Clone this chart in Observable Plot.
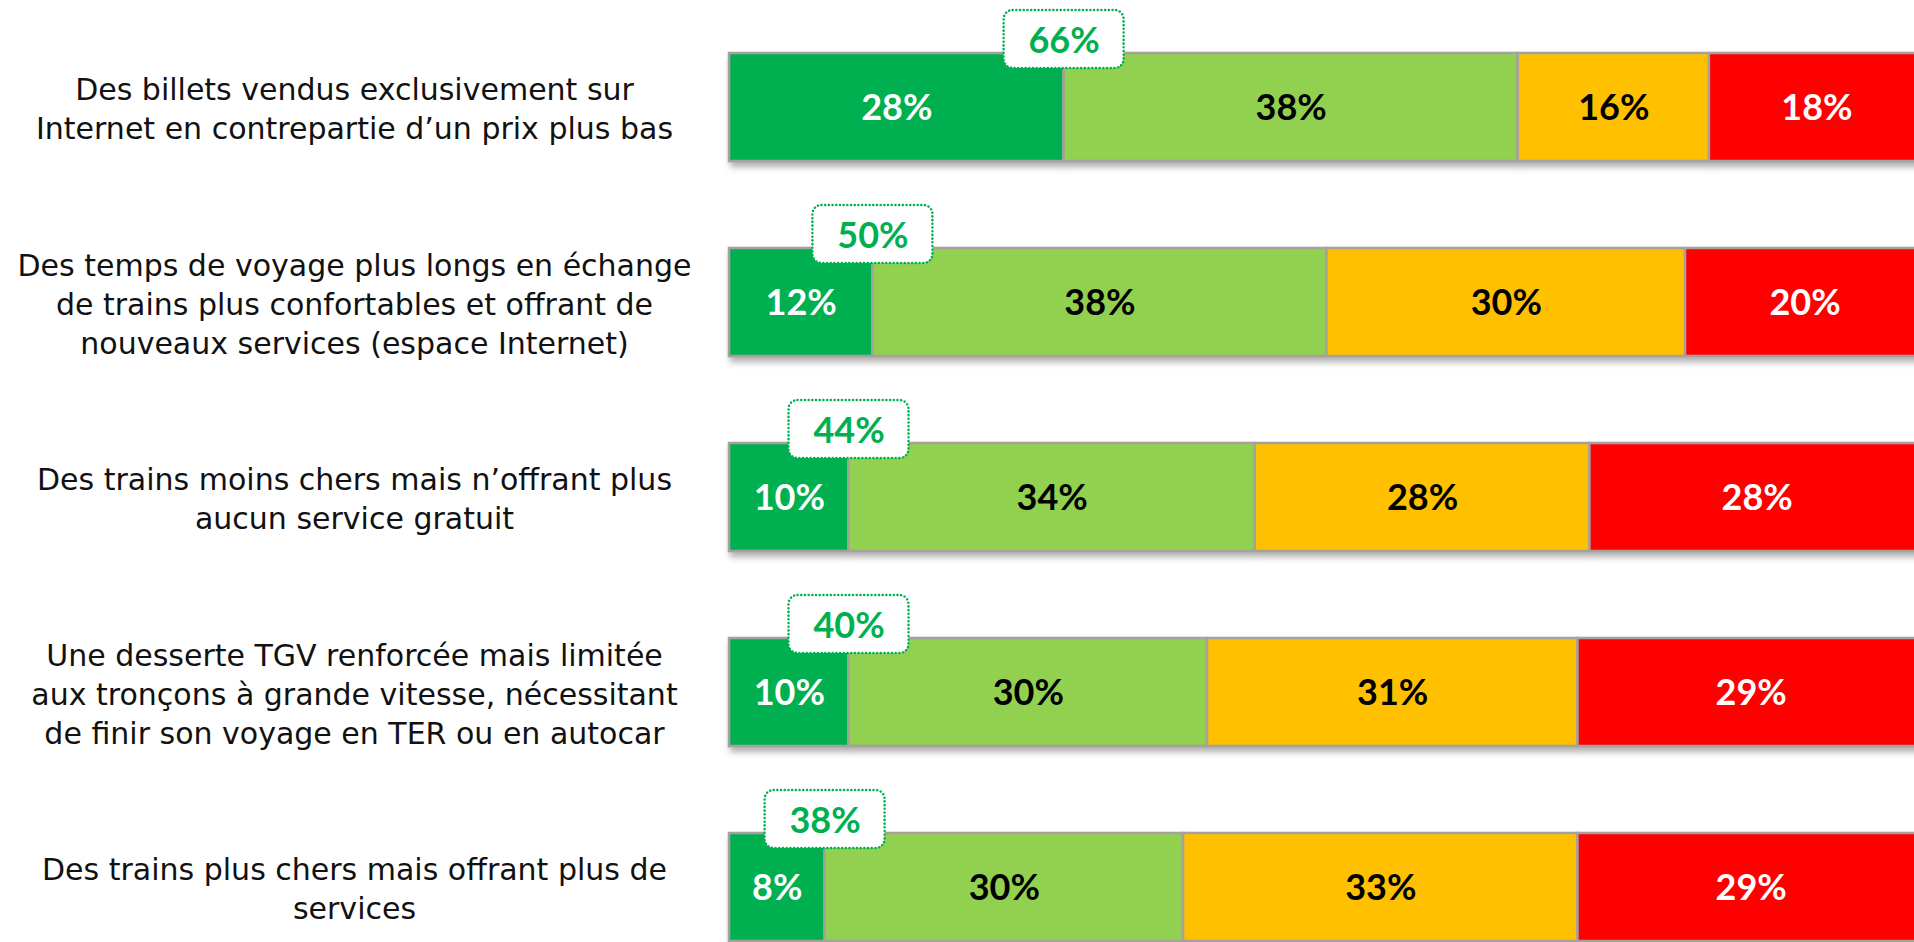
<!DOCTYPE html>
<html>
<head>
<meta charset="utf-8">
<script src="https://cdn.jsdelivr.net/npm/d3@7"></script>
<script src="https://cdn.jsdelivr.net/npm/@observablehq/plot@0.6"></script>
<style>
  html, body { margin: 0; padding: 0; background: #fff; overflow: hidden; }
</style>
</head>
<body>
<div id="chart"></div>
<script>
const categories = [
  "Des billets vendus exclusivement sur\nInternet en contrepartie d’un prix plus bas",
  "Des temps de voyage plus longs en échange\nde trains plus confortables et offrant de\nnouveaux services (espace Internet)",
  "Des trains moins chers mais n’offrant plus\naucun service gratuit",
  "Une desserte TGV renforcée mais limitée\naux tronçons à grande vitesse, nécessitant\nde finir son voyage en TER ou en autocar",
  "Des trains plus chers mais offrant plus de\nservices"
];
const series = ["Tout à fait", "Plutôt oui", "Plutôt non", "Pas du tout"];
const toutAFait = [28, 12, 10, 10, 8];
const plutotOui = [38, 38, 34, 30, 30];
const plutotNon = [16, 30, 28, 31, 33];
const pasDuTout = [18, 20, 28, 29, 29];
const totalFavorable = [66, 50, 44, 40, 38];
const seriesColors = ["#00B050", "#92D050", "#FFC000", "#FF0000"];

const values = [toutAFait, plutotOui, plutotNon, pasDuTout];
const table = [];
categories.forEach((c, i) => {
  let start = 0;
  series.forEach((s, j) => {
    const v = values[j][i];
    table.push({cat: c, serie: s, value: v, x1: start, x2: start + v});
    start += v;
  });
});
// the favourable total box sits on the border between the first two segments
const totals = categories.map((c, i) => ({cat: c, total: totalFavorable[i], at: toutAFait[i]}));
const whiteText = new Set([series[0], series[3]]);

const labelFont = "Lato, 'Open Sans', sans-serif";

const chart = Plot.plot({
  width: 1914,
  height: 942,
  marginLeft: 729,
  marginRight: -10,
  marginTop: 52,
  marginBottom: 1,
  x: {domain: [0, 100], axis: null},
  y: {domain: categories, paddingInner: 0.447, paddingOuter: 0, axis: null, label: null},
  color: {domain: series, range: seriesColors},
  style: {fontFamily: labelFont, background: "white", overflow: "hidden"},
  marks: [
    Plot.barX(table, {x1: "x1", x2: "x2", y: "cat", fill: "serie", stroke: "#A6A19C", strokeWidth: 2.5}),
    Plot.text(table.filter(d => whiteText.has(d.serie)), {x: d => (d.x1 + d.x2) / 2, y: "cat", text: d => d.value + "%", fill: "white", fontSize: 36, fontWeight: "bold", dy: 1}),
    Plot.text(table.filter(d => !whiteText.has(d.serie)), {x: d => (d.x1 + d.x2) / 2, y: "cat", text: d => d.value + "%", fill: "black", fontSize: 36, fontWeight: "bold", dy: 1}),
    Plot.rect(totals, {x1: "at", x2: "at", y: "cat", insetLeft: -60, insetRight: -60, insetTop: -43, insetBottom: 93, rx: 9, fill: "white", stroke: "#00B050", strokeWidth: 2.5, strokeDasharray: "0.1 3.6", strokeLinecap: "round"}),
    Plot.text(totals, {x: "at", y: "cat", text: d => d.total + "%", fill: "#00B050", fontSize: 36, fontWeight: "bold", dy: -66}),
    Plot.axisY({tickSize: 0, textAnchor: "middle", dx: -366, fontSize: 30, lineHeight: 1.3, fill: "#111", label: null, fontFamily: "'DejaVu Sans', sans-serif"})
  ]
});
chart.style.maxWidth = "none";
d3.select(chart).selectAll('g[aria-label="bar"]').style("filter", "drop-shadow(2px 5px 3px rgba(0,0,0,0.3))");
d3.select(chart).selectAll('g[aria-label="rect"] rect').attr("rx", 9).attr("ry", 9);
document.getElementById("chart").appendChild(chart);
</script>
</body>
</html>
